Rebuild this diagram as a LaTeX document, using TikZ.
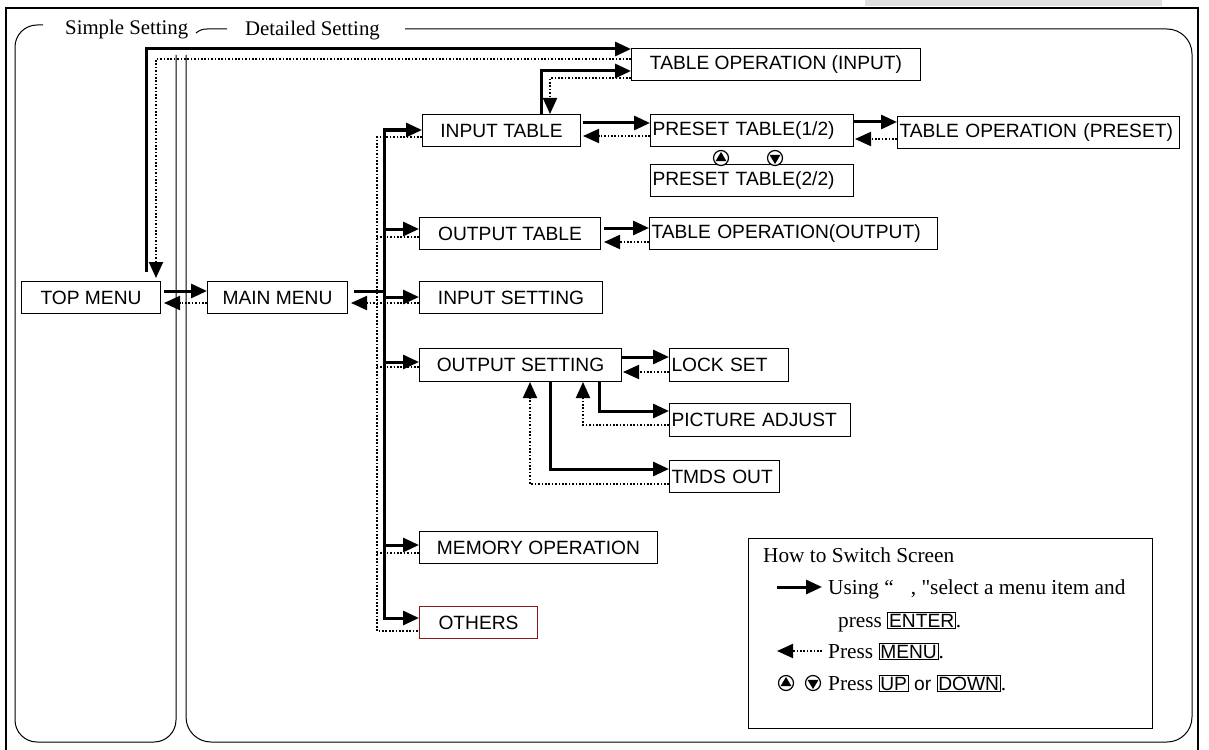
\documentclass[tikz,border=0pt]{standalone}
\usepackage{fontspec}
\setmainfont{Liberation Serif}
\setsansfont{Liberation Sans}
\newfontfamily\qfont{Liberation Serif}
\usetikzlibrary{arrows.meta}
\definecolor{dred}{RGB}{140,25,25}
\newcommand\bxfont{\sffamily\fontsize{19.2pt}{22pt}\selectfont}
\newcommand\lgfont{\rmfamily\fontsize{21.3pt}{24pt}\selectfont}
\newcommand\keybox[1]{{\setlength\fboxsep{0.8pt}\setlength\fboxrule{1pt}\fbox{\sffamily\fontsize{19.2pt}{22pt}\selectfont #1}}}
\tikzset{
  bx/.style={draw, line width=1pt, inner sep=0pt, font=\bxfont, anchor=north west, minimum height=32pt},
  lbx/.style={bx, align=left, inner xsep=2pt, text width=#1},
  fw/.style={line width=3pt, ->},
  fwl/.style={line width=3pt},
  dt/.style={line width=2pt, dash pattern=on 1.7pt off 1.7pt},
  bk/.style={dt, ->},
  lbl/.style={inner sep=0pt, anchor=base west, font=\rmfamily\fontsize{20.8pt}{24pt}\selectfont},
  lgt/.style={inner sep=0pt, anchor=base west, font=\lgfont},
  upc/.pic={\draw[line width=1.2pt, fill=white] (0,0) circle (7.5); \fill (-5.5,3.2) -- (5.5,3.2) -- (0,-6) -- cycle;},
  dnc/.pic={\draw[line width=1.2pt, fill=white] (0,0) circle (7.5); \fill (-5.5,-3.2) -- (5.5,-3.2) -- (0,6) -- cycle;}
}
\begin{document}
\begin{tikzpicture}[x=1pt, y=-1pt, >={Triangle[length=16pt,width=14pt]}]
\useasboundingbox (0,0) rectangle (1209,749);
% frame
\fill[gray!25] (865,0) rectangle (1162,6);
\draw[line width=1.2pt] (6,760) -- (6,8) -- (1198,8) -- (1198,760);
% setting areas
\draw[line width=1pt, rounded corners=22pt] (43,25) -- (15,25) -- (15,742) -- (176,742) -- (176,55);
\draw[line width=1pt, rounded corners=25pt] (405,29) -- (1192,29) -- (1192,742) -- (186,742) -- (186,55);
\draw[line width=1pt] (196,33) .. controls (199,30.5) and (202,29) .. (207,29) -- (227,29);
\node[lbl] (ls) at (65,35) {Simple Setting};
\node[lbl] (ld) at (245,36) {Detailed Setting};
% boxes
\node[bx, minimum width=139pt] (top) at (21,281) {TOP MENU};
\node[bx, minimum width=140pt] (main) at (207,281) {MAIN MENU};
\node[bx, minimum width=289pt] (tin) at (631,48) {TABLE OPERATION (INPUT)};
\node[bx, minimum width=158pt] (itab) at (422,114) {INPUT TABLE};
\node[lbx=199pt] (p1) at (650,114) {PRESET TABLE(1/2)};
\node[lbx=199pt] (p2) at (650,164) {PRESET TABLE(2/2)};
\node[lbx=278pt] (tpre) at (897,116) {TABLE OPERATION (PRESET)};
\node[bx, minimum width=181pt] (otab) at (419,217) {OUTPUT TABLE};
\node[lbx=284pt] (tout) at (649,217) {TABLE OPERATION(OUTPUT)};
\node[bx, minimum width=183pt] (iset) at (419,281) {INPUT SETTING};
\node[bx, minimum width=202pt, minimum height=33pt] (oset) at (419,348) {OUTPUT SETTING};
\node[lbx=115pt, minimum height=33pt] (lock) at (669,348) {LOCK SET};
\node[lbx=177pt, minimum height=33pt] (pic) at (669,403) {PICTURE ADJUST};
\node[lbx=106pt] (tmds) at (669,460) {TMDS OUT};
\node[bx, minimum width=238pt] (mem) at (419,531) {MEMORY OPERATION};
\node[bx, minimum width=118pt, draw=dred] (oth) at (419,606) {OTHERS};
\pic at (721,158) {upc};
\pic at (775,158) {dnc};
% top <-> main
\draw[fw, shorten <=3pt] (top.east |- 0,291) -- (main.west |- 0,291);
\draw[bk, shorten >=3pt] (main.west |- 0,303) -- (top.east |- 0,303);
% main -> bus
\coordinate (bus) at (384,291);
\draw[fwl, shorten <=6pt] (main.east |- 0,291) -- (bus);
\draw[fw] (bus) |- (itab.west |- 0,130);
\draw[fw] (bus) |- (oth.west |- 0,618);
\draw[fw] (bus |- 0,229) -- (otab.west |- 0,229);
\draw[fw] (bus |- 0,297) -- (iset.west |- 0,297);
\draw[fw] (bus |- 0,362) -- (oset.west |- 0,362);
\draw[fw] (bus |- 0,545) -- (mem.west |- 0,545);
% dotted return bus
\coordinate (dbus) at (377,303);
\draw[dt] (itab.west |- 0,137) -| (dbus) |- (oth.west |- 0,631);
\draw[dt] (otab.west |- 0,237) -- (dbus |- 0,237);
\draw[bk, shorten >=3pt] (iset.west |- 0,303) -- (main.east |- 0,303);
\draw[dt] (oset.west |- 0,367) -- (dbus |- 0,367);
\draw[dt] (mem.west |- 0,553) -- (dbus |- 0,553);
% input table <-> preset
\draw[fw, shorten <=2pt] (itab.east |- 0,123) -- (p1.west |- 0,123);
\draw[bk, shorten >=2pt] (p1.west |- 0,136) -- (itab.east |- 0,136);
% input table <-> table operation (input)
\draw[fw] (541,0 |- itab.north) |- (tin.west |- 0,71);
\draw[bk] (tin.west |- 0,78) -| (550,0 |- itab.north);
% top menu <-> table operation (input)
\draw[fw, shorten <=9pt] (146,0 |- top.north) |- (tin.west |- 0,49);
\draw[bk, shorten >=3pt] (tin.west |- 0,59) -| (156,0 |- top.north);
% preset <-> table operation (preset)
\draw[fw] (p1.east |- 0,122) -- (tpre.west |- 0,122);
\draw[bk, shorten >=1pt] (tpre.west |- 0,139) -- (p1.east |- 0,139);
% output table <-> table operation (output)
\draw[fw, shorten <=3pt] (otab.east |- 0,228) -- (tout.west |- 0,228);
\draw[bk, shorten >=3pt] (tout.west |- 0,242) -- (otab.east |- 0,242);
% output setting <-> lock set
\draw[fw] (oset.east |- 0,357) -- (lock.west |- 0,357);
\draw[bk, shorten >=1pt] (lock.west |- 0,372) -- (oset.east |- 0,372);
% output setting <-> picture adjust
\draw[fw] (599,0 |- oset.south) |- (pic.west |- 0,411);
\draw[bk] (pic.west |- 0,425) -| (583,0 |- oset.south);
% output setting <-> tmds out
\draw[fw] (550,0 |- oset.south) |- (tmds.west |- 0,469);
\draw[bk] (tmds.west |- 0,484) -| (530,0 |- oset.south);
% legend
\node[draw, line width=1.2pt, anchor=north west, inner sep=0pt, minimum width=404pt, minimum height=190pt] (lg) at (748,538) {};
\node[lgt] (l0) at (763,562) {How to Switch Screen};
\draw[fw] (777,587) -- (822,587);
\node[lgt] (l1) at (828,594) {Using “\hspace{17pt}, {\qfont"}select a menu item and};
\node[lgt] (l2) at (838,627) {press \keybox{ENTER}.};
\draw[bk] (822,651) -- (777,651);
\node[lgt] (l3) at (828,658) {Press \keybox{MENU}.};
\pic at (786,683) {upc};
\pic at (813,683) {dnc};
\node[lgt] (l4) at (828,690) {Press \keybox{UP} {\sffamily\fontsize{19.2pt}{22pt}\selectfont or} \keybox{DOWN}.};
\end{tikzpicture}
\end{document}
